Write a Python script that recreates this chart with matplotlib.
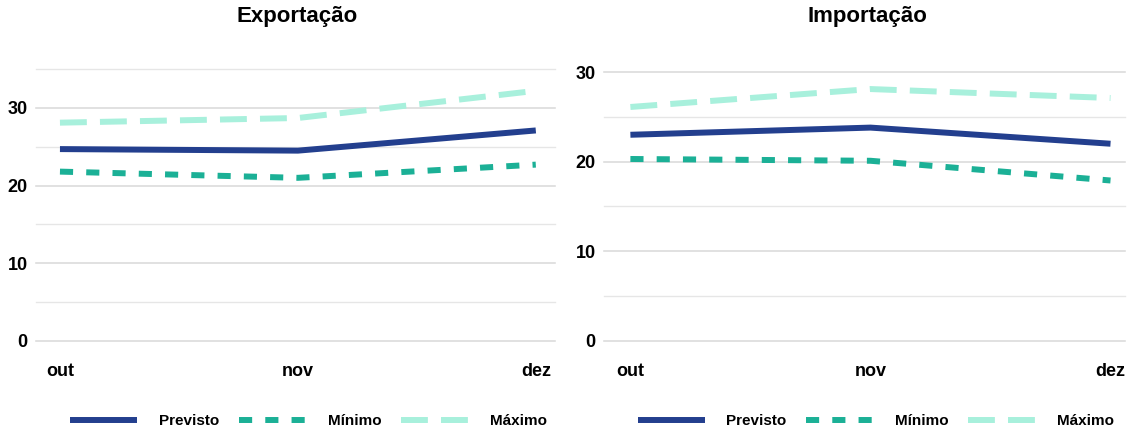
import matplotlib
matplotlib.use('Agg')
import matplotlib.pyplot as plt

plt.rcParams['font.family'] = ['Liberation Sans', 'DejaVu Sans']
plt.rcParams['font.weight'] = 'bold'

meses = ['out', 'nov', 'dez']

# Exportação
exp_previsto = [24.7, 24.5, 27.1]
exp_minimo = [21.8, 21.0, 22.7]
exp_maximo = [28.1, 28.7, 32.2]

# Importação
imp_previsto = [23.0, 23.8, 22.0]
imp_minimo = [20.3, 20.1, 17.9]
imp_maximo = [26.1, 28.1, 27.1]

cor_prev = '#233f8e'
cor_min = '#1bb096'
cor_max = '#a8f0dc'

fig = plt.figure(figsize=(11.3, 4.33), dpi=100)
ax1 = fig.add_axes([0.032, 0.2125, 0.459, 0.628])
ax2 = fig.add_axes([0.5345, 0.2125, 0.461, 0.6212])


def painel(ax, titulo, prev, mini, maxi, ytop, xlim, tx, lx):
    x = range(len(meses))
    l1, = ax.plot(x, prev, color=cor_prev, lw=4.3, label='Previsto', solid_capstyle='butt')
    l2, = ax.plot(x, mini, color=cor_min, lw=4.3, dashes=(2.2, 2.2), label='Mínimo')
    l3, = ax.plot(x, maxi, color=cor_max, lw=4.3, dashes=(4.5, 2.2), label='Máximo')
    ax.set_ylim(0, ytop)
    ax.set_xlim(*xlim)
    ax.set_yticks([0, 10, 20, 30])
    ax.set_yticks(range(5, ytop + 1, 10), minor=True)
    ax.set_xticks(list(x))
    ax.set_xticklabels(meses)
    ax.grid(axis='y', which='major', color='#d8d8d8', lw=1.1)
    ax.grid(axis='y', which='minor', color='#e6e6e6', lw=1)
    for t in ax.yaxis.get_major_ticks() + ax.yaxis.get_minor_ticks():
        t.gridline.set_clip_on(False)
    ax.set_axisbelow(True)
    for s in ax.spines.values():
        s.set_visible(False)
    ax.tick_params(axis='both', which='both', length=0, labelsize=13)
    ax.tick_params(axis='x', pad=16)
    ax.tick_params(axis='y', pad=6)
    fig.text(tx, 0.961, titulo, fontsize=16, fontweight='bold', ha='center', va='center')
    fig.legend(handles=[l1, l2, l3], loc='center', bbox_to_anchor=(lx, 0.028), ncol=3,
               frameon=False, fontsize=11, handlelength=4.4, columnspacing=1.3,
               handletextpad=1.4)


painel(ax1, 'Exportação', exp_previsto, exp_minimo, exp_maximo, 35, (-0.1, 2.08), 0.263, 0.273)
painel(ax2, 'Importação', imp_previsto, imp_minimo, imp_maximo, 30, (-0.11, 2.06), 0.768, 0.775)

fig.savefig('out.png', dpi=100)
